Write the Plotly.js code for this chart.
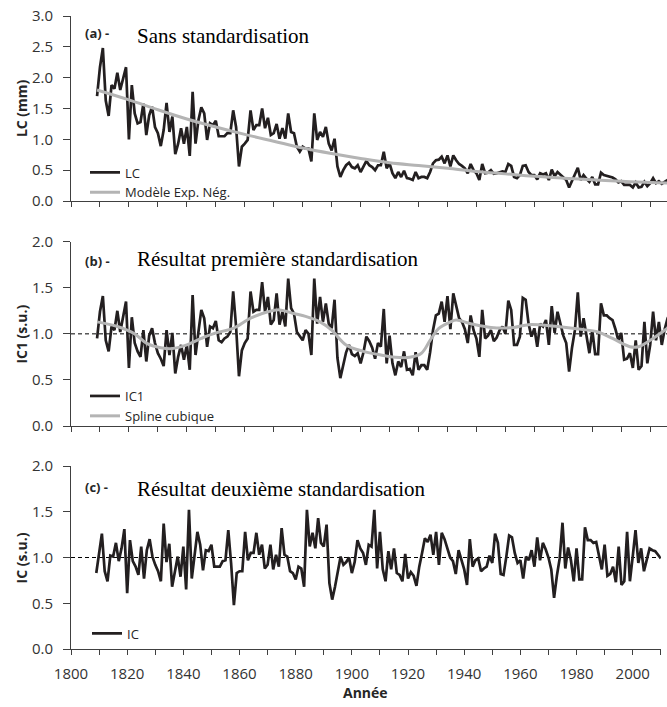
<!DOCTYPE html>
<html>
<head>
<meta charset="utf-8">
<script src="https://cdn.plot.ly/plotly-3.0.1.min.js"></script>
<style>html,body{margin:0;padding:0;background:#fff;}#chart{width:667px;height:707px;}</style>
</head>
<body>
<div id="chart"></div>
<script>
// ---- Data ----
const startYear = 1809;

// (a) Largeur de cerne LC (mm), 1809-2010
const lcValues = [
  1.70,
  2.17, 2.48, 1.63, 1.38, 1.88, 1.82, 2.08, 1.80, 2.01, 2.17,
  1.00, 1.88, 1.42, 1.26, 1.28, 1.58, 1.07, 1.39, 1.53, 1.20,
  1.10, 0.89, 1.15, 1.59, 1.12, 1.37, 0.76, 0.93, 1.18, 0.93,
  1.20, 0.73, 1.77, 0.93, 1.31, 1.52, 1.42, 0.99, 1.26, 1.23,
  1.30, 1.05, 1.05, 1.05, 1.10, 1.10, 1.47, 1.20, 0.56, 0.88,
  0.93, 0.99, 1.47, 1.15, 1.23, 1.23, 1.50, 1.18, 1.35, 1.07,
  1.10, 1.25, 1.01, 1.18, 1.01, 1.42, 1.12, 1.10, 0.88, 0.80,
  0.88, 0.85, 0.85, 0.64, 1.42, 0.99, 1.12, 1.04, 1.20, 0.93,
  0.82, 1.01, 0.56, 0.39, 0.50, 0.58, 0.62, 0.55, 0.53, 0.58,
  0.47, 0.55, 0.65, 0.58, 0.55, 0.50, 0.58, 0.58, 0.80, 0.53,
  0.61, 0.45, 0.37, 0.47, 0.39, 0.49, 0.37, 0.36, 0.34, 0.47,
  0.37, 0.39, 0.39, 0.37, 0.47, 0.61, 0.66, 0.67, 0.72, 0.61,
  0.74, 0.56, 0.74, 0.66, 0.60, 0.57, 0.53, 0.45, 0.60, 0.50,
  0.45, 0.34, 0.60, 0.45, 0.46, 0.50, 0.44, 0.45, 0.47, 0.48,
  0.47, 0.60, 0.57, 0.39, 0.37, 0.42, 0.57, 0.58, 0.47, 0.42,
  0.42, 0.35, 0.45, 0.43, 0.45, 0.34, 0.51, 0.40, 0.47, 0.43,
  0.38, 0.34, 0.22, 0.32, 0.42, 0.54, 0.34, 0.42, 0.36, 0.31,
  0.39, 0.27, 0.27, 0.46, 0.42, 0.41, 0.40, 0.38, 0.35, 0.30,
  0.32, 0.26, 0.26, 0.26, 0.22, 0.30, 0.22, 0.23, 0.31, 0.24,
  0.29, 0.37, 0.29, 0.32, 0.28, 0.31, 0.34, 0.35, 0.35, 0.34,
  0.33
];

// (a) Modèle exponentiel négatif
const expYears  = [1809, 1820, 1830, 1840, 1850, 1860, 1870, 1880, 1890, 1900, 1910, 1920, 1930, 1940, 1950, 1960, 1970, 1980, 1990, 2000, 2010];
const expValues = [1.80, 1.64, 1.48, 1.33, 1.20, 1.08, 0.97, 0.86, 0.77, 0.69, 0.62, 0.575, 0.53, 0.48, 0.44, 0.40, 0.37, 0.345, 0.32, 0.30, 0.29];

// (b) IC1 (s.u.), 1809-2010
const ic1Values = [
  0.95,
  1.24, 1.41, 0.93, 0.81, 1.08, 1.04, 1.25, 1.02, 1.19, 1.35,
  0.63, 1.18, 0.90, 0.81, 0.75, 1.04, 0.70, 0.98, 1.06, 0.90,
  0.79, 0.73, 0.65, 1.04, 0.77, 1.01, 0.57, 0.75, 0.88, 0.72,
  0.88, 0.61, 1.42, 0.77, 1.02, 1.26, 1.17, 0.86, 1.08, 1.06,
  1.14, 0.93, 0.91, 0.95, 0.97, 1.02, 1.46, 1.08, 0.54, 0.82,
  0.90, 0.95, 1.46, 1.24, 1.26, 1.26, 1.56, 1.24, 1.40, 1.10,
  1.15, 1.44, 1.10, 1.24, 1.08, 1.60, 1.28, 1.22, 1.02, 0.97,
  0.93, 1.04, 1.00, 0.77, 1.60, 1.11, 1.40, 1.13, 1.33, 1.11,
  1.06, 1.37, 0.74, 0.52, 0.68, 0.80, 0.88, 0.78, 0.76, 0.79,
  0.68, 0.80, 0.97, 0.92, 0.85, 0.73, 0.90, 0.86, 1.27, 0.68,
  0.98, 0.68, 0.55, 0.70, 0.64, 0.81, 0.61, 0.62, 0.55, 0.80,
  0.61, 0.66, 0.66, 0.61, 0.80, 1.04, 1.20, 1.22, 1.35, 1.13,
  1.41, 1.05, 1.44, 1.29, 1.17, 1.13, 1.05, 0.90, 1.20, 1.04,
  0.95, 0.75, 1.26, 0.95, 0.98, 1.04, 0.92, 0.96, 1.04, 1.08,
  1.00, 1.36, 1.26, 0.88, 0.88, 0.97, 1.39, 1.37, 1.11, 0.97,
  1.06, 0.86, 1.11, 1.08, 1.15, 0.88, 1.30, 1.01, 1.24, 1.11,
  0.98, 0.90, 0.59, 0.85, 1.04, 1.45, 0.97, 1.17, 0.99, 0.79,
  1.04, 0.78, 0.78, 1.33, 1.20, 1.20, 1.17, 1.15, 1.05, 0.93,
  1.01, 0.72, 0.73, 0.79, 0.63, 0.93, 0.61, 0.65, 1.13, 0.68,
  0.88, 1.24, 0.93, 1.13, 0.88, 1.05, 1.17, 1.22, 1.20, 1.15,
  1.10
];

// (b) Spline cubique
const splineYears  = [1809, 1816, 1822, 1826, 1831, 1835, 1840, 1845, 1850, 1856, 1862, 1868, 1872, 1877, 1881, 1886, 1890, 1895, 1901, 1907, 1912, 1917, 1921, 1924, 1927, 1931, 1933, 1938, 1945, 1953, 1958, 1968, 1976, 1982, 1987, 1993, 1996, 2000, 2005, 2010];
const splineValues = [1.13, 1.08, 1.00, 0.90, 0.85, 0.84, 0.88, 0.95, 1.01, 1.06, 1.17, 1.24, 1.26, 1.22, 1.19, 1.13, 1.04, 0.88, 0.81, 0.77, 0.745, 0.745, 0.79, 0.93, 1.06, 1.13, 1.15, 1.11, 1.07, 1.07, 1.10, 1.08, 1.05, 1.02, 0.95, 0.86, 0.86, 0.93, 1.04, 1.15];

// (c) IC (s.u.), 1809-2010
const icValues = [
  0.83,
  1.03, 1.26, 0.85, 0.74, 1.02, 1.01, 1.16, 0.96, 1.10, 1.31,
  0.61, 1.19, 0.96, 0.90, 0.81, 1.12, 0.77, 1.08, 1.20, 1.01,
  0.92, 0.85, 0.74, 1.37, 0.95, 1.15, 0.68, 0.83, 1.01, 0.79,
  1.12, 0.65, 1.52, 0.77, 1.05, 1.28, 1.14, 0.86, 1.08, 1.07,
  1.14, 0.90, 0.90, 0.90, 0.96, 0.97, 1.30, 0.94, 0.48, 0.83,
  0.85, 0.85, 1.28, 0.97, 1.05, 1.05, 1.27, 1.03, 1.14, 0.88,
  0.92, 1.14, 0.87, 1.03, 0.90, 1.32, 1.03, 1.01, 0.85, 0.83,
  0.76, 0.90, 0.88, 0.68, 1.52, 1.12, 1.27, 1.10, 1.43, 1.16,
  1.12, 1.36, 0.72, 0.54, 0.68, 0.87, 1.01, 0.92, 0.95, 1.00,
  0.83, 0.95, 1.19, 1.10, 1.05, 0.92, 1.14, 1.12, 1.52, 0.88,
  1.28, 0.87, 0.74, 1.07, 0.87, 1.10, 0.83, 0.81, 0.74, 1.04,
  0.77, 0.84, 0.80, 0.69, 0.90, 1.05, 1.21, 1.17, 1.25, 1.03,
  1.28, 0.92, 1.27, 1.20, 1.10, 1.00, 0.96, 0.82, 1.08, 0.96,
  0.87, 0.70, 1.20, 0.90, 0.97, 0.99, 0.85, 0.88, 0.90, 1.02,
  0.94, 1.26, 1.16, 0.82, 0.81, 1.01, 1.24, 1.22, 1.05, 0.94,
  0.97, 0.77, 1.01, 0.97, 1.08, 0.90, 1.22, 0.97, 1.16, 1.09,
  1.00, 0.87, 0.56, 0.80, 0.99, 1.38, 0.88, 1.11, 0.97, 0.74,
  1.10, 0.76, 0.76, 1.33, 1.19, 1.19, 1.16, 1.17, 1.03, 0.87,
  1.14, 0.80, 0.82, 0.90, 0.73, 1.12, 0.70, 0.74, 1.28, 0.74,
  1.01, 1.30, 0.94, 1.10, 0.85, 0.96, 1.10, 1.08, 1.07, 1.03,
  0.99
];

const panelLabels = ['(a) -', '(b) -', '(c) -'];
const panelTitles = ['Sans standardisation', 'Résultat première standardisation', 'Résultat deuxième standardisation'];
const yTitles = ['LC (mm)', 'IC1 (s.u.)', 'IC (s.u.)'];
const xTitle = 'Année';

const years = lcValues.map((_, i) => startYear + i);

// ---- Styling ----
const BLACK = '#231f20';
const GRAY = '#b4b4b4';
const AXIS = '#404040';
const TXT = '#333333';
const SANS = 'Open Sans, sans-serif';
const SERIF = 'Liberation Serif, Times New Roman, serif';

const W = 667, H = 707;
const M = {l: 71, r: 0, t: 16, b: 58, autoexpand: false};
const PW = W - M.l - M.r, PH = H - M.t - M.b;
const fx = px => (px - M.l) / PW;
const fy = py => (H - M.b - py) / PH;

const traces = [
  {x: years, y: lcValues, xaxis: 'x', yaxis: 'y', name: 'LC', mode: 'lines',
   line: {color: BLACK, width: 2.7}, legend: 'legend'},
  {x: expYears, y: expValues, xaxis: 'x', yaxis: 'y', name: 'Modèle Exp. Nég.', mode: 'lines',
   line: {color: GRAY, width: 3, shape: 'spline'}, legend: 'legend'},
  {x: years, y: ic1Values, xaxis: 'x2', yaxis: 'y2', name: 'IC1', mode: 'lines',
   line: {color: BLACK, width: 2.7}, legend: 'legend2'},
  {x: splineYears, y: splineValues, xaxis: 'x2', yaxis: 'y2', name: 'Spline cubique', mode: 'lines',
   line: {color: GRAY, width: 3, shape: 'spline'}, legend: 'legend2'},
  {x: years, y: icValues, xaxis: 'x3', yaxis: 'y3', name: 'IC', mode: 'lines',
   line: {color: BLACK, width: 2.7}, legend: 'legend3'}
];

function xAx(range, domainEnd, labels, anchor) {
  const ax = {
    range: range, domain: [0, domainEnd], anchor: anchor,
    showline: true, linecolor: AXIS, linewidth: 1,
    showgrid: false, zeroline: false,
    ticks: 'outside', ticklen: 5, tickcolor: AXIS, tickwidth: 1,
    dtick: labels ? 20 : 10, tick0: 1800,
    showticklabels: labels,
    tickfont: {family: SANS, size: 15, color: TXT},
    ticklabelstandoff: 6,
    fixedrange: true
  };
  if (labels) ax.minor = {dtick: 10, tick0: 1800, ticks: 'outside', ticklen: 5, tickcolor: AXIS, tickwidth: 1, showgrid: false};
  return ax;
}
function yAx(range, domain, anchor) {
  return {
    range: range, domain: domain, anchor: anchor,
    showline: true, linecolor: AXIS, linewidth: 1,
    showgrid: false, zeroline: false,
    ticks: 'outside', ticklen: 7, tickcolor: AXIS, tickwidth: 1,
    dtick: 0.5, tick0: 0, tickformat: '.1f',
    tickfont: {family: SANS, size: 15, color: TXT},
    ticklabelstandoff: 7,
    fixedrange: true
  };
}

const legendBase = {
  xref: 'container', yref: 'container', xanchor: 'left', yanchor: 'top',
  bgcolor: 'rgba(0,0,0,0)', borderwidth: 0,
  font: {family: SANS, size: 13, color: '#262626'},
  tracegroupgap: 0, itemwidth: 30
};

const annotations = [];
const labelY = [33.3, 261, 486.7];
const titleY = [36, 258.7, 489];
const yTitleY = [108.4, 333.9, 557.7];
for (let i = 0; i < 3; i++) {
  annotations.push({xref: 'paper', yref: 'paper', x: fx(82.5), y: fy(labelY[i]), xanchor: 'left', yanchor: 'middle',
    text: '<b>' + panelLabels[i] + '</b>', showarrow: false, font: {family: SANS, size: 13, color: '#262626'}});
  annotations.push({xref: 'paper', yref: 'paper', x: fx(135), y: fy(titleY[i]), xanchor: 'left', yanchor: 'middle',
    text: panelTitles[i], showarrow: false, font: {family: SERIF, size: 21, color: '#000'}});
  annotations.push({xref: 'paper', yref: 'paper', x: fx(21.7), y: fy(yTitleY[i]), xanchor: 'center', yanchor: 'middle',
    text: '<b>' + yTitles[i] + '</b>', textangle: -90, showarrow: false, font: {family: SANS, size: 14, color: '#262626'}});
}
annotations.push({xref: 'paper', yref: 'paper', x: fx(365.8), y: fy(693), xanchor: 'center', yanchor: 'middle',
  text: '<b>' + xTitle + '</b>', showarrow: false, font: {family: SANS, size: 14, color: '#262626'}});

const dashed = (xr, yr) => ({type: 'line', xref: xr + ' domain', x0: 0, x1: 1, yref: yr, y0: 1, y1: 1,
  line: {color: '#000', width: 1, dash: '4px,3px'}, layer: 'below'});

const layout = {
  width: W, height: H,
  margin: M,
  paper_bgcolor: '#fff', plot_bgcolor: '#fff',
  showlegend: true,
  xaxis: xAx([1800, 2005.8], 1, false, 'y'),
  yaxis: yAx([0, 3], [fy(201), 1], 'x'),
  xaxis2: xAx([1800, 2005.8], 1, false, 'y2'),
  yaxis2: yAx([0, 2], [fy(426), fy(241.7)], 'x2'),
  xaxis3: xAx([1800, 2010], fx(660.8), true, 'y3'),
  yaxis3: yAx([0, 2], [0, fy(466)], 'x3'),
  legend: Object.assign({}, legendBase, {x: 85 / W, y: 1 - 157.5 / H}),
  legend2: Object.assign({}, legendBase, {x: 85 / W, y: 1 - 381 / H}),
  legend3: Object.assign({}, legendBase, {x: 87 / W, y: 1 - 618.5 / H}),
  shapes: [dashed('x2', 'y2'), dashed('x3', 'y3')],
  annotations: annotations
};

Plotly.newPlot('chart', traces, layout, {displayModeBar: false, staticPlot: true});
</script>
</body>
</html>
